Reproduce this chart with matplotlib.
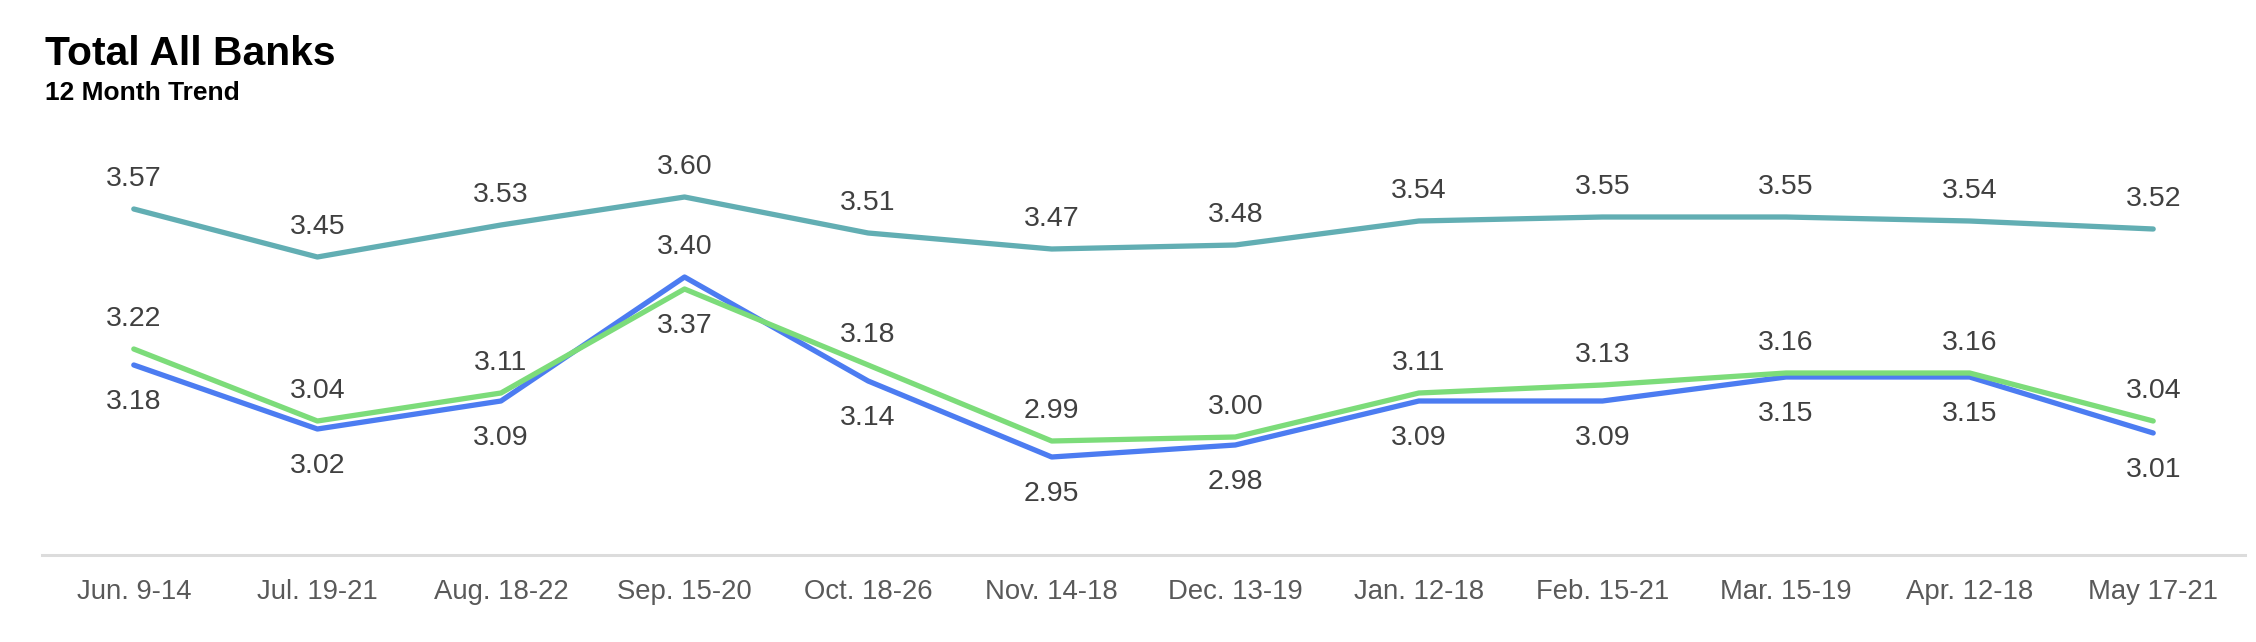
import matplotlib
matplotlib.use('Agg')
from matplotlib import pyplot as plt

periods = ['Jun. 9-14', 'Jul. 19-21', 'Aug. 18-22', 'Sep. 15-20', 'Oct. 18-26',
           'Nov. 14-18', 'Dec. 13-19', 'Jan. 12-18', 'Feb. 15-21', 'Mar. 15-19',
           'Apr. 12-18', 'May 17-21']
teal_vals = [3.57, 3.45, 3.53, 3.60, 3.51, 3.47, 3.48, 3.54, 3.55, 3.55, 3.54, 3.52]
green_vals = [3.22, 3.04, 3.11, 3.37, 3.18, 2.99, 3.00, 3.11, 3.13, 3.16, 3.16, 3.04]
blue_vals = [3.18, 3.02, 3.09, 3.40, 3.14, 2.95, 2.98, 3.09, 3.09, 3.15, 3.15, 3.01]

plt.rcParams['font.family'] = ['Liberation Sans', 'DejaVu Sans']

fig = plt.figure(figsize=(22.56, 6.42), dpi=100)
ax = fig.add_axes([42 / 2256, 1 - 555 / 642, (2245 - 42) / 2256, (555 - 117) / 642])

x = list(range(len(periods)))
ax.plot(x, teal_vals, color='#62aeb3', lw=3.8, solid_joinstyle='round', solid_capstyle='round')
ax.plot(x, blue_vals, color='#4c7cf1', lw=3.8, solid_joinstyle='round', solid_capstyle='round')
ax.plot(x, green_vals, color='#7cdc7a', lw=3.8, solid_joinstyle='round', solid_capstyle='round')

label_kw = dict(textcoords='offset pixels', ha='center', va='baseline',
                fontsize=20.5, color='#404040')

# teal labels always above
for i, v in enumerate(teal_vals):
    ax.annotate(f'{v:.2f}', (i, v), xytext=(0, 23), **label_kw)

# the higher of blue/green goes above, the lower below
for i, (g, b) in enumerate(zip(green_vals, blue_vals)):
    hi, lo = (g, b) if g >= b else (b, g)
    ax.annotate(f'{hi:.2f}', (i, hi), xytext=(0, 23), **label_kw)
    ax.annotate(f'{lo:.2f}', (i, lo), xytext=(0, -44), **label_kw)

ax.set_xlim(-0.5, 11.5)
ax.set_ylim(2.705, 3.80)
ax.set_xticks(x)
ax.set_xticklabels(periods)
ax.set_yticks([])
ax.tick_params(axis='x', length=0, pad=17, labelsize=19.8, labelcolor='#595959')
for side in ['top', 'right', 'left']:
    ax.spines[side].set_visible(False)
ax.spines['bottom'].set_color('#dcdcdc')
ax.spines['bottom'].set_linewidth(2.2)

fig.text(45 / 2256, 1 - 65 / 642, 'Total All Banks', fontsize=29.3,
         fontweight='bold', va='baseline', ha='left')
fig.text(45 / 2256, 1 - 100 / 642, '12 Month Trend', fontsize=19,
         fontweight='bold', va='baseline', ha='left')

fig.savefig('out.png', dpi=100)
